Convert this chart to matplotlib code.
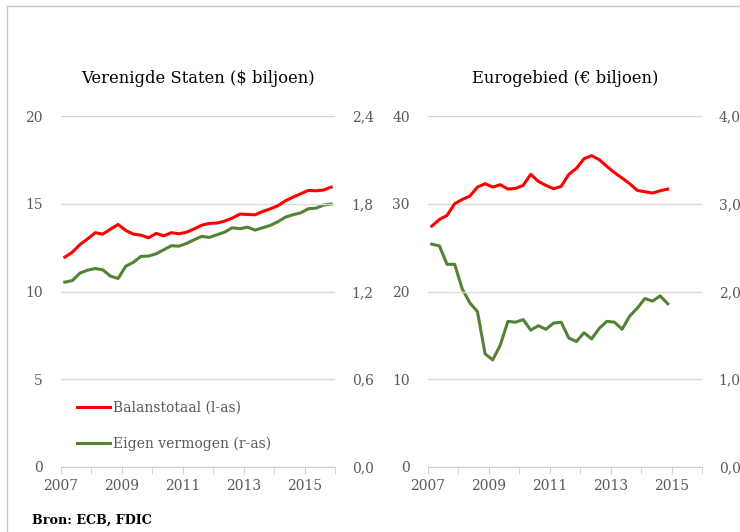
import matplotlib
matplotlib.use("Agg")
import matplotlib.pyplot as plt
from matplotlib.lines import Line2D
import numpy as np

plt.rcParams['font.family'] = ['DejaVu Serif']

# kwartaaldata 2007K1 - 2015K4 (VS), 2007K1 - 2014K4 (eurogebied)
us_balans = [11.96, 12.24, 12.68, 13.0, 13.35, 13.27, 13.55, 13.82, 13.48, 13.27,
             13.21, 13.06, 13.31, 13.17, 13.35, 13.29, 13.38, 13.57, 13.78, 13.88,
             13.9, 14.01, 14.18, 14.41, 14.39, 14.37, 14.56, 14.71, 14.89, 15.17,
             15.38, 15.57, 15.76, 15.74, 15.78, 15.95]
us_eigen = [1.264, 1.275, 1.326, 1.346, 1.357, 1.348, 1.305, 1.289, 1.373, 1.399,
            1.44, 1.442, 1.458, 1.485, 1.513, 1.51, 1.529, 1.554, 1.577, 1.57,
            1.588, 1.606, 1.636, 1.629, 1.64, 1.62, 1.636, 1.652, 1.677, 1.709,
            1.725, 1.738, 1.766, 1.77, 1.791, 1.798]
ez_balans = [27.45, 28.21, 28.67, 30.0, 30.49, 30.87, 31.9, 32.28, 31.9, 32.17,
             31.67, 31.75, 32.09, 33.35, 32.55, 32.09, 31.71, 31.98, 33.35, 34.03,
             35.13, 35.48, 35.02, 34.26, 33.54, 32.93, 32.28, 31.52, 31.37, 31.22,
             31.48, 31.67]
ez_eigen = [2.54, 2.52, 2.31, 2.31, 2.03, 1.87, 1.77, 1.29, 1.22, 1.39,
            1.66, 1.65, 1.68, 1.56, 1.61, 1.57, 1.64, 1.65, 1.47, 1.43,
            1.53, 1.46, 1.58, 1.66, 1.65, 1.57, 1.72, 1.81, 1.92, 1.89,
            1.95, 1.86]

titles = ['Verenigde Staten ($ biljoen)', 'Eurogebied (€ biljoen)']
left_ticks = [[0, 5, 10, 15, 20], [0, 10, 20, 30, 40]]
right_ticks = [[0.0, 0.6, 1.2, 1.8, 2.4], [0.0, 1.0, 2.0, 3.0, 4.0]]
year_labels = [2007, 2009, 2011, 2013, 2015]

red = '#FF0000'
green = '#548235'
grey_txt = '#595959'
grid_c = '#D9D9D9'

fig = plt.figure(figsize=(7.4, 5.32), dpi=100)

lefts = [61 / 740, 428 / 740]
panels = [(us_balans, us_eigen), (ez_balans, ez_eigen)]

for k in range(2):
    ax = fig.add_axes([lefts[k], 1 - 467 / 532, 274 / 740, 351 / 532])
    bal, eig = panels[k]
    x_bal = 2007 + (np.arange(len(bal)) + 0.5) / 4
    x_eig = 2007 + (np.arange(len(eig)) + 0.5) / 4
    ax2 = ax.twinx()
    ax2.plot(x_eig, eig, color=green, lw=2.2, solid_joinstyle='round')
    ax.plot(x_bal, bal, color=red, lw=2.2, solid_joinstyle='round', zorder=3)
    ax.set_zorder(ax2.get_zorder() + 1)
    ax.patch.set_visible(False)

    ax.set_xlim(2007, 2016)
    ax.set_ylim(left_ticks[k][0], left_ticks[k][-1])
    ax2.set_ylim(right_ticks[k][0], right_ticks[k][-1])
    ax.set_yticks(left_ticks[k])
    ax.set_yticklabels([str(v) for v in left_ticks[k]])
    ax2.set_yticks(right_ticks[k])
    ax2.set_yticklabels([('%.1f' % v).replace('.', ',') for v in right_ticks[k]])
    ax.set_xticks(year_labels)
    ax.set_xticklabels([str(y) for y in year_labels])
    ax.set_xticks(range(2007, 2017), minor=True)

    ax.grid(axis='y', color=grid_c, lw=1)
    ax.set_axisbelow(True)
    for a in (ax, ax2):
        for s in ['top', 'left', 'right', 'bottom']:
            a.spines[s].set_visible(False)
    ax.spines['bottom'].set_visible(True)
    ax.spines['bottom'].set_color('#D0D0D0')
    ax.tick_params(axis='y', length=0, pad=13, labelsize=10, labelcolor=grey_txt)
    ax2.tick_params(axis='y', length=0, pad=12, labelsize=10, labelcolor=grey_txt)
    ax.tick_params(axis='x', which='both', length=5, color='#D0D0D0',
                   labelsize=10, labelcolor=grey_txt, pad=4)
    ax.set_title(titles[k], fontsize=11.8, pad=24)

    if k == 0:
        handles = [Line2D([], [], color=red, lw=2.2), Line2D([], [], color=green, lw=2.2)]
        ax.legend(handles, ['Balanstotaal (l-as)', 'Eigen vermogen (r-as)'],
                  loc='lower left', bbox_to_anchor=(0.012, 0.01), frameon=False,
                  fontsize=10, labelcolor=grey_txt, handlelength=2.4,
                  handletextpad=0.2, labelspacing=1.6)

# kader
fig.add_artist(Line2D([7 / 740, 1], [1 - 6 / 532, 1 - 6 / 532], color='#C8C8C8', lw=1))
fig.add_artist(Line2D([7 / 740, 7 / 740], [0, 1 - 6 / 532], color='#C8C8C8', lw=1))

fig.text(32 / 740, 1 - 520 / 532, 'Bron: ECB, FDIC', fontsize=9.2, fontweight='bold',
         va='center', ha='left')

fig.savefig('out.png', dpi=100)
